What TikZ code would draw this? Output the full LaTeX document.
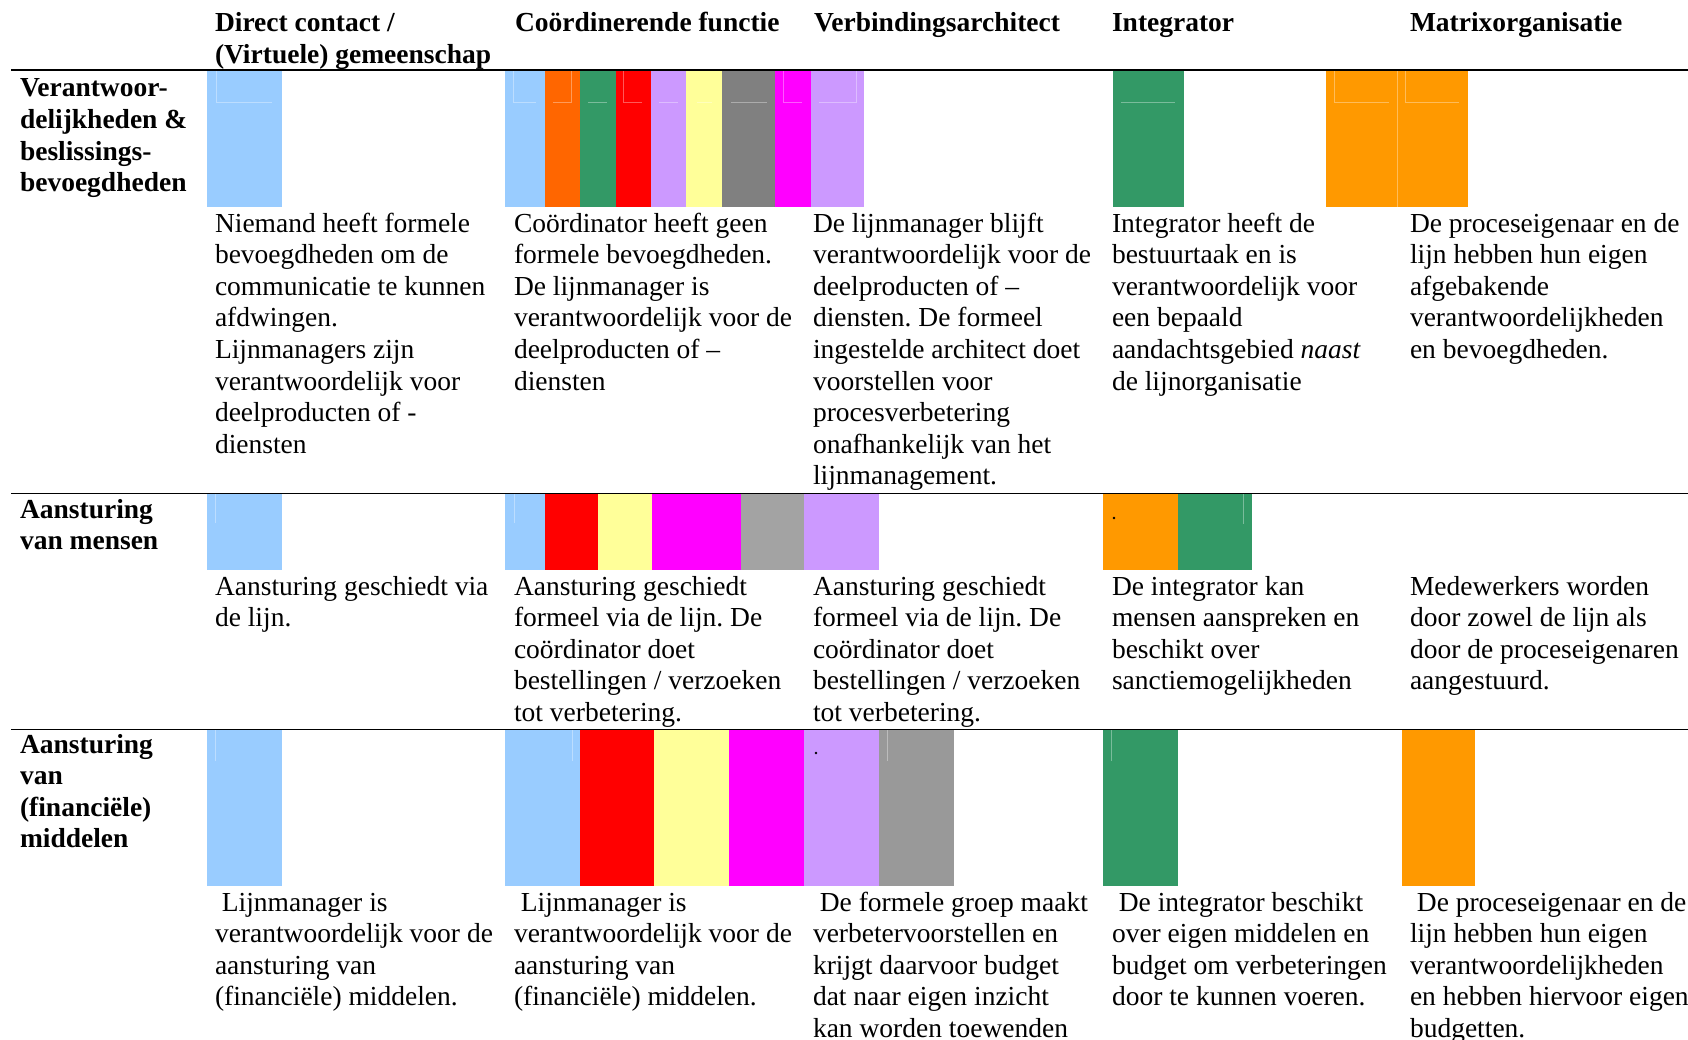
\documentclass[tikz,border=0pt]{standalone}
\usepackage{fontspec}
\setmainfont{Liberation Serif}
\frenchspacing
\definecolor{lblue}{HTML}{99CCFF}
\definecolor{orngA}{HTML}{FF6600}
\definecolor{grn}{HTML}{339966}
\definecolor{rd}{HTML}{FF0000}
\definecolor{lav}{HTML}{CC99FF}
\definecolor{ylw}{HTML}{FFFF99}
\definecolor{gryA}{HTML}{808080}
\definecolor{mgn}{HTML}{FF00FF}
\definecolor{orngB}{HTML}{FF9900}
\definecolor{gryB}{HTML}{A3A3A3}
\definecolor{gryC}{HTML}{999999}
\newcommand{\myStrut}{\rule{0pt}{25pt}}
\tikzset{
  body/.style={anchor=north west, inner sep=0pt, outer sep=0pt, align=left,
    font=\fontsize{27.5}{31.6}\selectfont\frenchspacing},
  head/.style={body, font=\fontsize{27.5}{31.6}\selectfont\bfseries\frenchspacing},
  faint/.style={draw=white, draw opacity=0.35, line width=0.9pt},
  thickrule/.style={draw=black, line width=2.2pt},
  thinrule/.style={draw=black, line width=1.2pt},
}
\begin{document}
\begin{tikzpicture}[x=1pt,y=-1pt]
\useasboundingbox (0,0) rectangle (1688,1040);
\fill[white] (0,0) rectangle (1688,1040);

% ---------- colour blocks row 1 ----------
\fill[lblue] (207,71) rectangle (282,207);
\fill[lblue] (505,71) rectangle (545,207);
\fill[orngA] (545,71) rectangle (580,207);
\fill[grn]   (580,71) rectangle (616,207);
\fill[rd]    (616,71) rectangle (651,207);
\fill[lav]   (651,71) rectangle (686,207);
\fill[ylw]   (686,71) rectangle (722,207);
\fill[gryA]  (722,71) rectangle (775,207);
\fill[mgn]   (775,71) rectangle (811,207);
\fill[lav]   (811,71) rectangle (864,207);
\fill[grn]   (1113,71) rectangle (1184,207);
\fill[orngB] (1326,71) rectangle (1468,207);
% faint inner lines row 1
\draw[faint] (216,71) -- (216,102) -- (272,102);
\draw[faint] (513,71) -- (513,102) -- (536,102);
\draw[faint] (553,102) -- (571,102) -- (571,71);
\draw[faint] (588,102) -- (607,102);
\draw[faint] (623,71) -- (623,102) -- (642,102);
\draw[faint] (659,102) -- (678,102);
\draw[faint] (697,102) -- (712,102);
\draw[faint] (731,102) -- (767,102);
\draw[faint] (783,71) -- (783,102) -- (802,102);
\draw[faint] (819,102) -- (856,102) -- (856,71);
\draw[faint] (1121,102) -- (1175,102);
\draw[faint] (1334,71) -- (1334,102) -- (1389,102);
\draw[faint] (1405,71) -- (1405,102) -- (1459,102);
\draw[faint] (1397,71) -- (1397,207);

% ---------- colour blocks row 2 ----------
\fill[lblue] (207,494) rectangle (282,570);
\fill[lblue] (505,494) rectangle (545,570);
\fill[rd]    (545,494) rectangle (598,570);
\fill[ylw]   (598,494) rectangle (652,570);
\fill[mgn]   (652,494) rectangle (741,570);
\fill[gryB]  (741,494) rectangle (804,570);
\fill[lav]   (804,494) rectangle (879,570);
\fill[orngB] (1103,494) rectangle (1178,570);
\fill[grn]   (1178,494) rectangle (1252,570);
\draw[faint] (215,494) -- (215,523);
\draw[faint] (514,494) -- (514,523);
\draw[faint] (1243,494) -- (1243,524);
\fill[black] (1114,518) circle (1.4);

% ---------- colour blocks row 3 ----------
\fill[lblue] (207,730) rectangle (282,886);
\fill[lblue] (505,730) rectangle (580,886);
\fill[rd]    (580,730) rectangle (654,886);
\fill[ylw]   (654,730) rectangle (729,886);
\fill[mgn]   (729,730) rectangle (804,886);
\fill[lav]   (804,730) rectangle (879,886);
\fill[gryC]  (879,730) rectangle (954,886);
\fill[grn]   (1103,730) rectangle (1178,886);
\fill[orngB] (1402,730) rectangle (1475,886);
\draw[faint] (215,730) -- (215,761);
\draw[faint] (572,730) -- (572,761);
\draw[faint] (887,730) -- (887,761);
\draw[faint] (1111,730) -- (1111,761);
\fill[black] (816,753) circle (1.4);

% ---------- rules ----------
\coordinate (r1a) at (11,70);   \coordinate (r1b) at (1690,70);
\coordinate (r2a) at (11,493.5); \coordinate (r2b) at (1690,493.5);
\coordinate (r3a) at (11,729.3); \coordinate (r3b) at (1690,729.3);
\draw[thickrule] (r1a) -- (r1b);
\draw[thinrule] (r2a) -- (r2b);
\draw[thinrule] (r3a) -- (r3b);

% ---------- column headers ----------
\node[head] (h1) at (215,7) {\myStrut Direct contact /\\(Virtuele) gemeenschap};
\node[head] (h2) at (515,7) {\myStrut Coördinerende functie};
\node[head] (h3) at (814,7) {\myStrut Verbindingsarchitect};
\node[head] (h4) at (1112,7) {\myStrut Integrator};
\node[head] (h5) at (1410,7) {\myStrut Matrixorganisatie};

% ---------- row headers ----------
\node[head] (rA) at (20,72) {\myStrut Verantwoor-\\delijkheden \&\\beslissings-\\bevoegdheden};
\node[head] (rB) at (20,493) {\myStrut Aansturing\\van mensen};
\node[head] (rC) at (20,728) {\myStrut Aansturing\\van\\(financiële)\\middelen};

% ---------- row 1 texts ----------
\node[body] (a1) at (215,207) {\myStrut Niemand heeft formele\\bevoegdheden om de\\communicatie te kunnen\\afdwingen.\\Lijnmanagers zijn\\verantwoordelijk voor\\deelproducten of -\\diensten};
\node[body] (a2) at (514,207) {\myStrut Coördinator heeft geen\\formele bevoegdheden.\\De lijnmanager is\\verantwoordelijk voor de\\deelproducten of –\\diensten};
\node[body] (a3) at (813,207) {\myStrut De lijnmanager blijft\\verantwoordelijk voor de\\deelproducten of –\\diensten. De formeel\\ingestelde architect doet\\voorstellen voor\\procesverbetering\\onafhankelijk van het\\lijnmanagement.};
\node[body] (a4) at (1112,207) {\myStrut Integrator heeft de\\bestuurtaak en is\\verantwoordelijk voor\\een bepaald\\aandachtsgebied \textit{naast}\\de lijnorganisatie};
\node[body] (a5) at (1410,207) {\myStrut De proceseigenaar en de\\lijn hebben hun eigen\\afgebakende\\verantwoordelijkheden\\en bevoegdheden.};

% ---------- row 2 texts ----------
\node[body] (b1) at (215,570) {\myStrut Aansturing geschiedt via\\de lijn.};
\node[body] (b2) at (514,570) {\myStrut Aansturing geschiedt\\formeel via de lijn. De\\coördinator doet\\bestellingen / verzoeken\\tot verbetering.};
\node[body] (b3) at (813,570) {\myStrut Aansturing geschiedt\\formeel via de lijn. De\\coördinator doet\\bestellingen / verzoeken\\tot verbetering.};
\node[body] (b4) at (1112,570) {\myStrut De integrator kan\\mensen aanspreken en\\beschikt over\\sanctiemogelijkheden};
\node[body] (b5) at (1410,570) {\myStrut Medewerkers worden\\door zowel de lijn als\\door de proceseigenaren\\aangestuurd.};

% ---------- row 3 texts ----------
\node[body] (c1) at (215,886) {\myStrut\hspace*{0.25em}Lijnmanager is\\verantwoordelijk voor de\\aansturing van\\(financiële) middelen.};
\node[body] (c2) at (514,886) {\myStrut\hspace*{0.25em}Lijnmanager is\\verantwoordelijk voor de\\aansturing van\\(financiële) middelen.};
\node[body] (c3) at (813,886) {\myStrut\hspace*{0.25em}De formele groep maakt\\verbetervoorstellen en\\krijgt daarvoor budget\\dat naar eigen inzicht\\kan worden toewenden};
\node[body] (c4) at (1112,886) {\myStrut\hspace*{0.25em}De integrator beschikt\\over eigen middelen en\\budget om verbeteringen\\door te kunnen voeren.};
\node[body] (c5) at (1410,886) {\myStrut\hspace*{0.25em}De proceseigenaar en de\\lijn hebben hun eigen\\verantwoordelijkheden\\en hebben hiervoor eigen\\budgetten.};
\end{tikzpicture}
\end{document}
